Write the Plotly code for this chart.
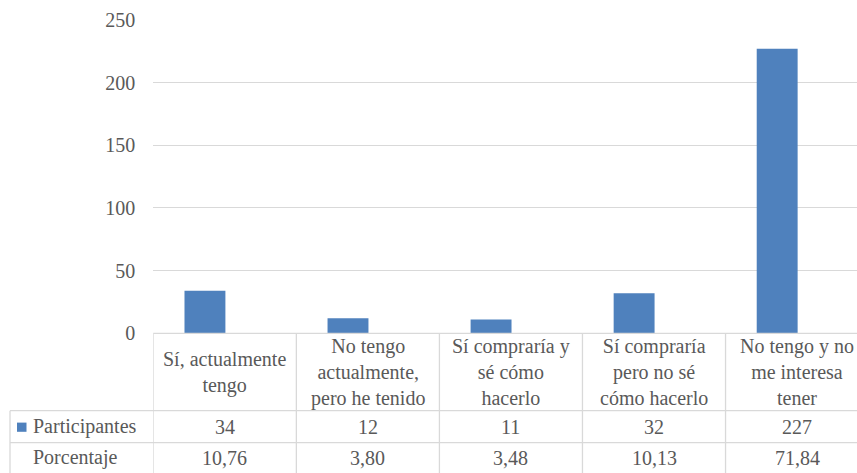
import plotly.graph_objects as go

# ---- data ----
categories = [
    "Sí, actualmente<br>tengo",
    "No tengo<br>actualmente,<br>pero he tenido",
    "Sí compraría y<br>sé cómo<br>hacerlo",
    "Sí compraría<br>pero no sé<br>cómo hacerlo",
    "No tengo y no<br>me interesa<br>tener",
]
participantes = [34, 12, 11, 32, 227]
porcentaje = ["10,76", "3,80", "3,48", "10,13", "71,84"]
row_names = ["Participantes", "Porcentaje"]
y_ticks = [0, 50, 100, 150, 200, 250]

# ---- style ----
W, H = 857, 473
FONT = "Liberation Serif"
GRAY = "#595959"
LINE = "#d9d9d9"
BLUE = "#4f81bd"
FS = 20


def px(x):
    return x / W


def py(y):
    return 1 - y / H


plot_left = 153.3
plot_top, plot_bottom = 20, 333.3
row1_top, row2_top, table_bottom = 410.7, 442.7, 475
x_range = [-0.361, 4.558]
col_offset = 0.361  # table column boundary offset relative to bar centres

n = len(categories)
xs = list(range(n))

fig = go.Figure()
fig.add_trace(go.Bar(
    x=xs, y=participantes, width=0.286,
    marker=dict(color=BLUE, line=dict(width=0)),
    name=row_names[0], showlegend=False, hoverinfo="y",
))

shapes = []
annotations = []

# table horizontal lines
shapes.append(dict(type="line", xref="paper", yref="paper",
                   x0=px(plot_left), x1=1, y0=py(plot_bottom), y1=py(plot_bottom),
                   line=dict(color=LINE, width=1.3)))
for yy in (row1_top, row2_top):
    shapes.append(dict(type="line", xref="paper", yref="paper",
                       x0=px(10), x1=1, y0=py(yy), y1=py(yy),
                       line=dict(color=LINE, width=1.3)))
# left border of the row-label column
shapes.append(dict(type="line", xref="paper", yref="paper",
                   x0=px(10), x1=px(10), y0=py(row1_top), y1=py(table_bottom),
                   line=dict(color=LINE, width=1.3)))
# column boundaries
for i in range(n + 1):
    xb = i - col_offset
    shapes.append(dict(type="line", xref="x", yref="paper",
                       x0=xb, x1=xb, y0=py(plot_bottom), y1=py(table_bottom),
                       line=dict(color=LINE, width=1.3)))

# legend key square
shapes.append(dict(type="rect", xref="paper", yref="paper",
                   x0=px(17), x1=px(26.5), y0=py(431.8), y1=py(422.6),
                   fillcolor=BLUE, line=dict(width=0)))

font = dict(family=FONT, size=FS, color=GRAY)
for i in range(n):
    cx = i - col_offset + 0.5
    annotations.append(dict(x=cx, y=py((plot_bottom + row1_top) / 2), xref="x", yref="paper",
                            text=categories[i], showarrow=False, xanchor="center",
                            yanchor="middle", font=font))
    annotations.append(dict(x=cx, y=py((row1_top + row2_top) / 2), xref="x", yref="paper",
                            text=str(participantes[i]), showarrow=False, xanchor="center",
                            yanchor="middle", font=font))
    annotations.append(dict(x=cx, y=py((row2_top + table_bottom) / 2 - 1), xref="x", yref="paper",
                            text=porcentaje[i], showarrow=False, xanchor="center",
                            yanchor="middle", font=font))

annotations.append(dict(x=px(31), y=py((row1_top + row2_top) / 2), xref="paper", yref="paper",
                        text=row_names[0], showarrow=False, xanchor="left",
                        yanchor="middle", font=font))
annotations.append(dict(x=px(31), y=py((row2_top + table_bottom) / 2 - 1), xref="paper", yref="paper",
                        text=row_names[1], showarrow=False, xanchor="left",
                        yanchor="middle", font=font))

fig.update_layout(
    width=W, height=H,
    margin=dict(l=0, r=0, t=0, b=0, autoexpand=False),
    paper_bgcolor="white", plot_bgcolor="white",
    showlegend=False,
    xaxis=dict(domain=[px(plot_left), 1], range=x_range, showticklabels=False,
               showgrid=False, zeroline=False, showline=False, ticks="", automargin=False),
    yaxis=dict(domain=[py(plot_bottom), py(plot_top)], range=[0, 250], tickvals=y_ticks,
               showgrid=True, gridcolor=LINE, gridwidth=1.3, zeroline=False, showline=False,
               ticks="", ticklabelstandoff=17, tickfont=font, automargin=False),
    shapes=shapes,
    annotations=annotations,
)

fig.write_html("out.html")
